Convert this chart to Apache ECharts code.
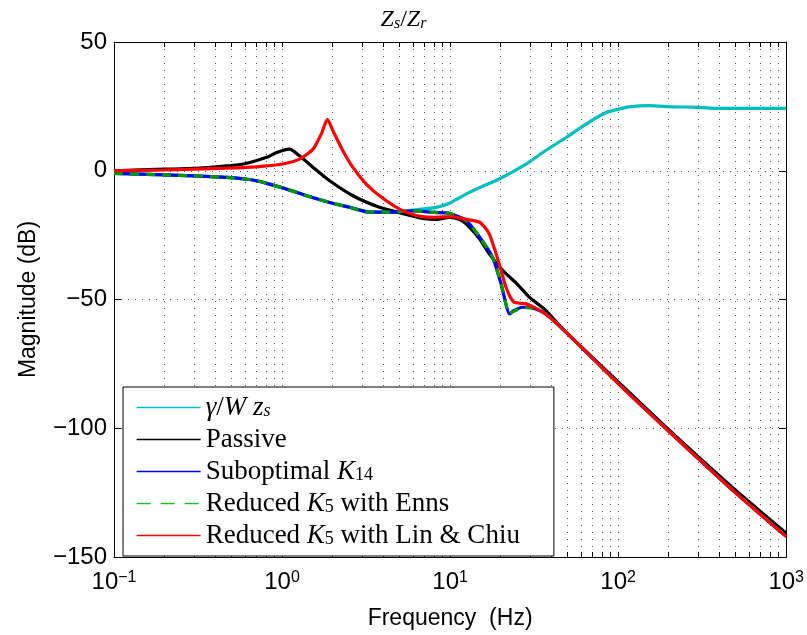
<!DOCTYPE html>
<html><head><meta charset="utf-8">
<script src="https://cdn.jsdelivr.net/npm/echarts@6/dist/echarts.min.js"></script>
<style>html,body{margin:0;padding:0;background:#fff}#c{width:807px;height:635px}</style>
</head><body><div id="c"></div>
<script>
// ---- data (frequency in Hz, magnitude in dB) ----
const seriesNames = ['γ/W z_s', 'Passive', 'Suboptimal K_14', 'Reduced K_5 with Enns', 'Reduced K_5 with Lin & Chiu'];

const gammaF  = [0.1, 0.2, 0.3, 0.47, 0.67, 0.81, 1.06, 1.4, 1.92, 2.52, 3.32, 4.36, 6.0, 8.26, 10, 12.5, 15, 19.6, 28.3, 35.6, 49, 64.4, 84.6, 100, 116, 153, 210, 277, 381, 1000];
const gammaDB = [-1.0, -1.6, -2.0, -2.6, -3.6, -4.9, -7.1, -9.7, -12.3, -14.2, -16.1, -16.1, -15.3, -14.2, -12.5, -9.0, -6.5, -3.2, 2.6, 7.1, 12.9, 18.1, 22.6, 23.9, 24.8, 25.3, 24.8, 24.7, 24.2, 24.2];

const passiveF  = [0.1, 0.2, 0.3, 0.47, 0.59, 0.81, 0.93, 1.11, 1.27, 1.53, 1.92, 2.64, 3.8, 5.0, 6.88, 8.26, 9.9, 11.4, 12.5, 15, 17.1, 20.6, 25, 29.6, 37.2, 46.7, 100, 192, 479, 1000];
const passiveDB = [0, 0.6, 0.9, 1.9, 2.6, 5.2, 7.1, 8.4, 5.8, 1.3, -3.9, -9.7, -14.2, -16.3, -18.5, -18.9, -18.1, -18.9, -20.7, -26.5, -32.3, -38.8, -43.9, -49.1, -54.3, -61.4, -82.0, -99.5, -123.0, -140.8];

const k14F  = [0.1, 0.2, 0.3, 0.47, 0.67, 0.81, 1.06, 1.4, 1.92, 2.52, 3.32, 4.36, 6.0, 8.0, 9.9, 12.5, 15, 17.9, 20.1, 22.6, 23.9, 27, 31, 37.2, 46.7, 100, 192, 479, 1000];
const k14DB = [-1.0, -1.6, -2.0, -2.6, -3.6, -4.9, -7.1, -9.7, -12.3, -14.2, -16.1, -16.1, -15.6, -16.2, -16.5, -19.4, -25.8, -33.6, -43.9, -55.6, -54.3, -53.0, -53.3, -55.6, -61.4, -82.5, -100.0, -124.0, -142.0];

const ennsF  = [0.1, 0.2, 0.3, 0.47, 0.67, 0.81, 1.06, 1.4, 1.92, 2.52, 3.32, 4.36, 6.0, 8.0, 9.9, 12.5, 15, 17.9, 20.1, 22.6, 23.9, 27, 31, 37.2, 46.7, 100, 192, 479, 1000];
const ennsDB = [-1.0, -1.6, -2.0, -2.6, -3.6, -4.9, -7.1, -9.7, -12.3, -14.2, -16.1, -16.1, -15.6, -16.2, -16.5, -19.4, -25.8, -33.6, -43.9, -55.6, -54.6, -53.2, -53.3, -55.6, -61.4, -82.5, -100.0, -124.0, -142.0];

const linF  = [0.1, 0.2, 0.3, 0.47, 0.615, 0.81, 1.01, 1.27, 1.53, 1.71, 1.86, 2.01, 2.30, 2.64, 3.17, 3.8, 5.0, 6.27, 7.93, 10.4, 11.9, 15, 17.1, 19.6, 21.5, 23.9, 28.3, 35.6, 46.7, 100, 192, 479, 1000];
const linDB = [0, 0.3, 0.6, 1.0, 1.3, 1.9, 2.6, 4.5, 8.4, 14.2, 20.0, 15.5, 7.8, 1.3, -5.2, -9.7, -14.9, -17.4, -18.1, -17.8, -18.7, -20.0, -24.5, -36.2, -45.2, -51.0, -51.7, -54.9, -61.4, -82.7, -100.1, -124.0, -142.1];

const xTickValues  = [0.1,0.2,0.3,0.4,0.5,0.6,0.7,0.8,0.9,1,2,3,4,5,6,7,8,9,10,20,30,40,50,60,70,80,90,100,200,300,400,500,600,700,800,900,1000];
const xLabelValues = [0.1, 1, 10, 100, 1000];
const yMin = -150, yMax = 50, yStep = 50;

// ---- helpers ----
const pairs = (f, d) => f.map((v, i) => [v, d[i]]);
const SERIF = 'Liberation Serif';
const SANS = 'Liberation Sans';
const LF = 27, SF = 18;
const legendRich = {
  t:   { fontFamily: SERIF, fontSize: LF, fontWeight: 'normal', color: '#000', lineHeight: 26 },
  i:   { fontFamily: SERIF, fontSize: LF, fontWeight: 'normal', fontStyle: 'italic', color: '#000', lineHeight: 26 },
  sub: { fontFamily: SERIF, fontSize: SF, fontWeight: 'normal', color: '#000', lineHeight: 10, verticalAlign: 'bottom' },
  si:  { fontFamily: SERIF, fontSize: SF, fontWeight: 'normal', fontStyle: 'italic', color: '#000', lineHeight: 10, verticalAlign: 'bottom' }
};
const legendText = {
  'γ/W z_s': '{i|γ}{t|/}{i|W z}{si|s}',
  'Passive': '{t|Passive}',
  'Suboptimal K_14': '{t|Suboptimal }{i|K}{sub|14}',
  'Reduced K_5 with Enns': '{t|Reduced }{i|K}{sub|5}{t| with Enns}',
  'Reduced K_5 with Lin & Chiu': '{t|Reduced }{i|K}{sub|5}{t| with Lin & Chiu}'
};

const colors = ['#00BFBF', '#000000', '#0000FF', '#009900', '#FF0000'];
const legendColors = ['#00BFBF', '#000000', '#0000FF', '#22BB22', '#FF0000'];
const dataSets = [pairs(gammaF, gammaDB), pairs(passiveF, passiveDB), pairs(k14F, k14DB), pairs(ennsF, ennsDB), pairs(linF, linDB)];

const series = seriesNames.map((n, k) => ({
  name: n,
  type: 'line',
  data: dataSets[k],
  symbol: 'none',
  smooth: 0.2,
  color: colors[k],
  lineStyle: { width: 3.2, color: colors[k], type: k === 3 ? [9, 7] : 'solid' },
  xAxisIndex: 0, yAxisIndex: 0,
  z: 2 + k
}));

const legendData = seriesNames.map((n, k) => ({
  name: n,
  itemStyle: { color: 'rgba(0,0,0,0)', borderWidth: 0 },
  lineStyle: { color: legendColors[k], width: 1.3, type: k === 3 ? [14, 10] : 'solid', opacity: 1 }
}));

const dotted = { color: '#555', width: 1, type: [1, 6] };

const chart = echarts.init(document.getElementById('c'), null, { renderer: 'canvas' });
chart.setOption({
  animation: false,
  backgroundColor: '#fff',
  title: {
    text: '{i|Z}{si|s}{t|/}{i|Z}{si|r}',
    left: 'center', top: 3,
    textStyle: {
      fontWeight: 'normal',
      rich: {
        t:  { fontFamily: SERIF, fontSize: 24, fontWeight: 'normal', color: '#000', lineHeight: 24 },
        i:  { fontFamily: SERIF, fontSize: 24, fontWeight: 'normal', fontStyle: 'italic', color: '#000', lineHeight: 24 },
        si: { fontFamily: SERIF, fontSize: 16, fontWeight: 'normal', fontStyle: 'italic', color: '#000', lineHeight: 10, verticalAlign: 'bottom' }
      }
    }
  },
  grid: { left: 114, right: 20, top: 42, bottom: 78, containLabel: false },
  legend: {
    orient: 'vertical',
    left: 123, top: 387,
    backgroundColor: '#fff',
    borderColor: '#000', borderWidth: 1,
    padding: [7, 34, 7, 13],
    itemGap: 5,
    itemWidth: 64, itemHeight: 14,
    selectedMode: false,
    data: legendData,
    formatter: n => legendText[n],
    textStyle: { fontFamily: SERIF, fontSize: LF, color: '#000', lineHeight: 26, rich: legendRich }
  },
  xAxis: [{
    type: 'log', logBase: 10, min: 0.1, max: 1000,
    position: 'bottom',
    name: 'Frequency  (Hz)', nameLocation: 'middle', nameGap: 50,
    nameTextStyle: { fontFamily: SANS, fontSize: 23, color: '#000' },
    axisLine: { show: true, onZero: false, lineStyle: { color: '#000', width: 1 } },
    axisTick: { show: true, inside: true, length: 5, customValues: xTickValues, lineStyle: { color: '#000' } },
    axisLabel: {
      show: true, margin: 13, customValues: xLabelValues,
      formatter: v => { const e = Math.round(Math.log10(v)); return '{b|10}{sup|' + (e < 0 ? '−' + (-e) : e) + '}'; },
      rich: {
        b:   { fontFamily: SANS, fontSize: 24, color: '#000', lineHeight: 24 },
        sup: { fontFamily: SANS, fontSize: 16, color: '#000', lineHeight: 16, verticalAlign: 'top' }
      }
    },
    splitLine: { show: true, lineStyle: dotted },
    minorTick: { show: false }
  }, {
    type: 'log', logBase: 10, min: 0.1, max: 1000,
    position: 'top',
    axisLine: { show: true, onZero: false, lineStyle: { color: '#000', width: 1 } },
    axisTick: { show: true, inside: true, length: 5, customValues: xTickValues, lineStyle: { color: '#000' } },
    axisLabel: { show: false },
    splitLine: { show: false }
  }],
  yAxis: [{
    type: 'value', min: yMin, max: yMax, interval: yStep,
    position: 'left',
    name: 'Magnitude (dB)', nameLocation: 'middle', nameGap: 74,
    nameTextStyle: { fontFamily: SANS, fontSize: 23, color: '#000' },
    axisLine: { show: true, onZero: false, lineStyle: { color: '#000', width: 1 } },
    axisTick: { show: true, inside: true, length: 7, lineStyle: { color: '#000' } },
    axisLabel: {
      margin: 7, fontFamily: SANS, fontSize: 24, color: '#000',
      formatter: v => (v < 0 ? '−' + (-v) : '' + v)
    },
    splitLine: { show: true, lineStyle: dotted }
  }, {
    type: 'value', min: yMin, max: yMax, interval: yStep,
    position: 'right',
    axisLine: { show: true, onZero: false, lineStyle: { color: '#000', width: 1 } },
    axisTick: { show: true, inside: true, length: 7, lineStyle: { color: '#000' } },
    axisLabel: { show: false },
    splitLine: { show: false }
  }],
  series: series
});
</script>
</body></html>
